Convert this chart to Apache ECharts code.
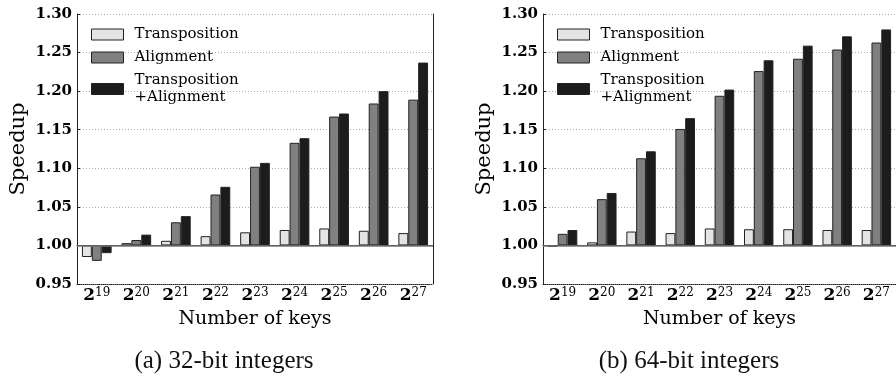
<!DOCTYPE html>
<html>
<head>
<meta charset="utf-8">
<script src="https://cdn.jsdelivr.net/npm/echarts@6/dist/echarts.min.js"></script>
<style>
  html, body { margin: 0; padding: 0; background: #fff; }
  #J_chart { width: 896px; height: 383px; }
</style>
</head>
<body>
<div id="J_chart"></div>
<script>
// exponents of 2 for the number of keys
var keyExps = ['19', '20', '21', '22', '23', '24', '25', '26', '27'];
var yTicks = [0.95, 1.00, 1.05, 1.10, 1.15, 1.20, 1.25, 1.30];
var seriesNames = ['Transposition', 'Alignment', 'Transposition\n+Alignment'];

// (a) 32-bit integers
var trans32 = [0.985, 1.003, 1.006, 1.012, 1.017, 1.020, 1.022, 1.019, 1.016];
var align32 = [0.980, 1.007, 1.030, 1.066, 1.102, 1.133, 1.167, 1.184, 1.189];
var both32  = [0.990, 1.014, 1.038, 1.076, 1.107, 1.139, 1.171, 1.200, 1.237];

// (b) 64-bit integers
var trans64 = [0.998, 1.004, 1.018, 1.016, 1.022, 1.021, 1.021, 1.020, 1.020];
var align64 = [1.015, 1.060, 1.113, 1.151, 1.194, 1.226, 1.242, 1.254, 1.263];
var both64  = [1.020, 1.068, 1.122, 1.165, 1.202, 1.240, 1.259, 1.271, 1.280];

var colors = ['#e4e4e4', '#808080', '#1c1c1c'];
var serif = 'DejaVu Serif';

var chart = echarts.init(document.getElementById('J_chart'));

// bars grow from 1.00, so plot speedup - 1 and relabel the axis
function shift(arr) {
    return arr.map(function (v) { return +(v - 1).toFixed(4); });
}

function barSeries(name, data, idx, gridIdx, withBase) {
    var s = {
        name: name,
        type: 'bar',
        xAxisIndex: gridIdx,
        yAxisIndex: gridIdx,
        barGap: '0%',
        barCategoryGap: '25%',
        itemStyle: { color: colors[idx], borderColor: '#222', borderWidth: 1 },
        data: shift(data)
    };
    if (withBase) {
        s.markLine = {
            silent: true,
            symbol: 'none',
            label: { show: false },
            lineStyle: { color: '#777', type: 'solid', width: 1.5 },
            data: [{ yAxis: 0 }]
        };
    }
    return s;
}

function xAxisCfg(gridIdx) {
    return {
        type: 'category',
        gridIndex: gridIdx,
        data: keyExps,
        name: 'Number of keys',
        nameLocation: 'middle',
        nameGap: 25,
        nameTextStyle: { fontFamily: serif, fontSize: 19, color: '#000' },
        axisLine: { onZero: false, lineStyle: { color: '#222', type: 'dotted', width: 1 } },
        axisTick: { show: false },
        axisLabel: {
            interval: 0,
            margin: 3,
            formatter: function (v) { return '{b|2}{s|' + v + '}'; },
            rich: {
                b: { fontFamily: serif, fontSize: 17, fontWeight: 'bold', lineHeight: 18, color: '#000' },
                s: { fontFamily: serif, fontSize: 12, lineHeight: 12, verticalAlign: 'top', color: '#000' }
            }
        }
    };
}

function topAxisCfg(gridIdx) {
    return {
        type: 'category',
        gridIndex: gridIdx,
        position: 'top',
        data: keyExps,
        axisLine: { lineStyle: { color: '#222', width: 1 } },
        axisTick: { show: false },
        axisLabel: { show: false }
    };
}

function yAxisCfg(gridIdx) {
    return {
        type: 'value',
        gridIndex: gridIdx,
        min: -0.05,
        max: 0.30,
        interval: 0.05,
        name: 'Speedup',
        nameLocation: 'middle',
        nameGap: 48,
        nameTextStyle: { fontFamily: serif, fontSize: 21, color: '#000' },
        axisLine: { show: true, lineStyle: { color: '#222', width: 1 } },
        axisTick: { show: true, inside: true, length: 3, lineStyle: { color: '#222' } },
        axisLabel: {
            margin: 5,
            fontFamily: serif,
            fontSize: 15,
            fontWeight: 'bold',
            color: '#000',
            formatter: function (v) { return (v + 1).toFixed(2); }
        },
        splitLine: { show: true, lineStyle: { color: '#aaa', type: [1, 2], width: 1 } }
    };
}

function rightAxisCfg(gridIdx) {
    return {
        type: 'value',
        gridIndex: gridIdx,
        position: 'right',
        min: -0.05,
        max: 0.30,
        interval: 0.05,
        axisLine: { show: true, lineStyle: { color: '#222', width: 1 } },
        axisTick: { show: false },
        axisLabel: { show: false },
        splitLine: { show: false }
    };
}

function legendCfg(left) {
    return {
        orient: 'vertical',
        left: left,
        top: 26,
        padding: 0,
        itemWidth: 32,
        itemHeight: 11,
        itemGap: 6,
        icon: 'rect',
        textStyle: { fontFamily: serif, fontSize: 15, lineHeight: 17, color: '#000', padding: [0, 0, 0, 6] },
        itemStyle: { borderColor: '#222', borderWidth: 1 },
        data: seriesNames
    };
}

var option = {
    animation: false,
    backgroundColor: '#fff',
    title: [
        { text: '(a) 32-bit integers', left: 224, top: 349, textAlign: 'center', padding: 0,
          textStyle: { fontFamily: 'Liberation Serif', fontSize: 25, fontWeight: 'normal', color: '#111' } },
        { text: '(b) 64-bit integers', left: 689, top: 349, textAlign: 'center', padding: 0,
          textStyle: { fontFamily: 'Liberation Serif', fontSize: 25, fontWeight: 'normal', color: '#111' } }
    ],
    legend: [legendCfg(91), legendCfg(557)],
    grid: [
        { left: 77, right: 463, top: 14, bottom: 99 },
        { left: 543, right: -3, top: 14, bottom: 99 }
    ],
    xAxis: [xAxisCfg(0), xAxisCfg(1), topAxisCfg(0), topAxisCfg(1)],
    yAxis: [yAxisCfg(0), yAxisCfg(1), rightAxisCfg(0), rightAxisCfg(1)],
    series: [
        barSeries(seriesNames[0], trans32, 0, 0, false),
        barSeries(seriesNames[1], align32, 1, 0, true),
        barSeries(seriesNames[2], both32, 2, 0, false),
        barSeries(seriesNames[0], trans64, 0, 1, false),
        barSeries(seriesNames[1], align64, 1, 1, true),
        barSeries(seriesNames[2], both64, 2, 1, false)
    ]
};

chart.setOption(option);
</script>
</body>
</html>
